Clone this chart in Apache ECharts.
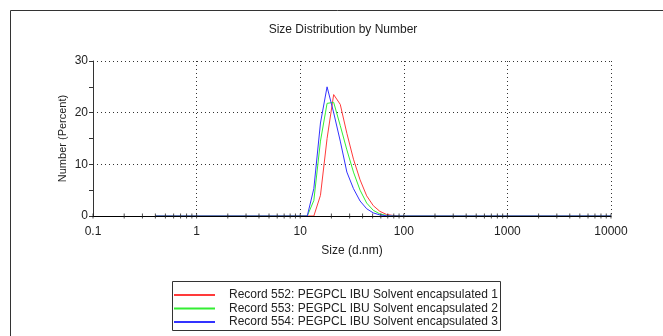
<!DOCTYPE html>
<html>
<head>
<meta charset="utf-8">
<script src="https://cdn.jsdelivr.net/npm/echarts@6/dist/echarts.min.js"></script>
<style>
  html, body { margin: 0; padding: 0; background: #fff; }
  #chart { width: 663px; height: 336px; }
</style>
</head>
<body>
<div id="chart"></div>
<script>
// size classes (d.nm)
const sizes = [0.4, 11.7, 13.54, 15.69, 18.17, 21.04, 24.36, 28.21, 32.67, 37.84, 43.82, 50.75, 58.77, 68.06, 78.82, 91.28, 105.7, 10000];

// number (%) per size class
const record552 = [0, 0, 0, 4, 15, 23.5, 21.6, 16, 11, 7, 3.9, 2, 0.9, 0.3, 0.1, 0, 0, 0];
const record553 = [0, 0, 3, 14.5, 21.8, 22, 17.5, 12.8, 8.5, 5, 2.5, 1.1, 0.4, 0.1, 0, 0, 0, 0];
const record554 = [0, 0, 5.3, 18, 25, 20, 14.5, 8.5, 5.3, 2.9, 1.4, 0.6, 0.2, 0.05, 0, 0, 0, 0];

const seriesNames = [
  "Record 552: PEGPCL IBU Solvent encapsulated 1",
  "Record 553: PEGPCL IBU Solvent encapsulated 2",
  "Record 554: PEGPCL IBU Solvent encapsulated 3",
];
const seriesColors = ["#ff3a3a", "#33ee33", "#3333ff"];

// x axis tick marks (major + minor decades)
const xTicks = [
  0.1, 0.2, 0.3, 0.4, 0.5, 0.6, 0.7, 0.8, 0.9,
  1, 2, 3, 4, 5, 6, 7, 8, 9,
  10, 20, 30, 40, 50, 60, 70, 80, 90,
  100, 200, 300, 400, 500, 600, 700, 800, 900,
  1000, 2000, 3000, 4000, 5000, 6000, 7000, 8000, 9000, 10000,
];

const chart = echarts.init(document.getElementById("chart"));

const font = "Liberation Sans, Arial, sans-serif";

const lineSeries = [record552, record553, record554].map((vals, i) => ({
  name: seriesNames[i],
  type: "line",
  data: sizes.map((s, j) => [s, vals[j]]),
  symbol: "none",
  lineStyle: { width: 1, color: seriesColors[i] },
  itemStyle: { color: seriesColors[i] },
  z: 2,
  animation: false,
}));

const option = {
  animation: false,
  backgroundColor: "#ffffff",
  textStyle: { fontFamily: font },
  title: {
    text: "Size Distribution by Number",
    left: 338,
    top: 19,
    textAlign: "center",
    textStyle: { fontSize: 12, fontWeight: "normal", color: "#222", fontFamily: font },
  },
  grid: { left: 93, right: 52, top: 61, bottom: 120 },
  legend: {
    orient: "vertical",
    left: 173,
    top: 289,
    padding: 0,
    height: 46,
    itemWidth: 41,
    itemHeight: 12,
    itemGap: 1.5,
    selectedMode: false,
    data: seriesNames,
    itemStyle: { opacity: 0 },
    textStyle: { fontSize: 12, color: "#222", fontFamily: font, lineHeight: 12, padding: [0, 0, 0, 9] },
    z: 10,
  },
  graphic: [
    {
      type: "rect",
      shape: { x: 10.5, y: 10.5, width: 700, height: 400 },
      style: { fill: "none", stroke: "#333", lineWidth: 1 },
      silent: true,
      z: 0,
    },
    {
      type: "rect",
      shape: { x: 501, y: 283, width: 30, height: 47 },
      style: { fill: "#ffffff" },
      silent: true,
      z: 100,
    },
    {
      type: "rect",
      shape: { x: 172.5, y: 281.5, width: 328, height: 49 },
      style: { fill: "none", stroke: "#333", lineWidth: 1 },
      silent: true,
      z: 101,
    },
  ],
  xAxis: {
    type: "log",
    logBase: 10,
    min: 0.1,
    max: 10000,
    name: "Size (d.nm)",
    nameLocation: "middle",
    nameGap: 29,
    nameMoveOverlap: false,
    nameTextStyle: { fontSize: 12, color: "#222", fontFamily: font },
    z: 5,
    axisLine: { lineStyle: { color: "#000", width: 1 } },
    axisTick: { show: false },
    axisLabel: {
      fontSize: 12,
      color: "#222",
      margin: 10,
      fontFamily: font,
      formatter: (v) => String(v),
    },
    splitLine: { show: true, lineStyle: { color: "#333", type: [1, 3], width: 1 } },
  },
  yAxis: {
    type: "value",
    min: 0,
    max: 30,
    interval: 10,
    name: "Number (Percent)",
    nameLocation: "middle",
    nameGap: 25,
    nameMoveOverlap: false,
    nameTextStyle: { fontSize: 11, color: "#222", fontFamily: font },
    axisLine: { show: true, lineStyle: { color: "#333", width: 1 } },
    axisTick: { show: true, length: 4, lineStyle: { color: "#333" } },
    minorTick: { show: true, splitNumber: 2, length: 4, lineStyle: { color: "#333" } },
    axisLabel: { fontSize: 12, color: "#222", margin: 5, fontFamily: font },
    splitLine: { show: true, lineStyle: { color: "#333", type: [1, 3], width: 1 } },
  },
  series: [
    ...lineSeries,
    {
      type: "scatter",
      data: xTicks.map((t) => [t, 0]),
      symbol: "rect",
      symbolSize: [1, 5],
      itemStyle: { color: "#222" },
      silent: true,
      z: 6,
      legendHoverLink: false,
      tooltip: { show: false },
    },
  ],
};

chart.setOption(option);
</script>
</body>
</html>
